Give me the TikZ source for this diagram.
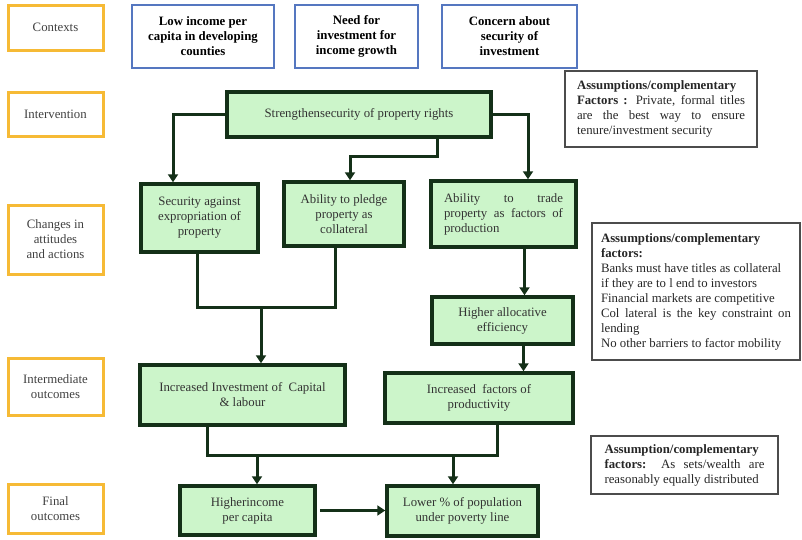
\documentclass[tikz,border=0pt]{standalone}
\usepackage{fontspec}
\setmainfont{Liberation Serif}
\usetikzlibrary{arrows.meta, positioning}
\definecolor{stageyellow}{HTML}{F6BA35}
\definecolor{ctxblue}{HTML}{5577C0}
\definecolor{stepgreen}{HTML}{CCF5CA}
\definecolor{stepedge}{HTML}{143018}

\begin{document}
\begin{tikzpicture}[x=1pt, y=-1pt,
  font=\fontsize{12.8}{15}\selectfont,
  stage/.style={draw=stageyellow, line width=3pt, align=center, text=black!75,
                minimum width=95},
  ctx/.style={draw=ctxblue, line width=2pt, align=center,
              font=\fontsize{12.8}{15}\selectfont\bfseries, minimum height=63},
  stepbox/.style={draw=stepedge, fill=stepgreen, line width=3.5pt, align=center,
                  text=black!80},
  note/.style={draw=black!70, line width=1.8pt, align=justify, text=black!85},
  arr/.style={-{Triangle[length=8pt,width=10pt]}, draw=stepedge, line width=3pt},
  link/.style={draw=stepedge, line width=3pt}]
\useasboundingbox (0,0) rectangle (802,539);

\node[stage, minimum height=45] (ctxlbl) at (55.5,27.5) {Contexts};
\node[stage, minimum height=44] (intlbl) at (55.5,114) {Intervention};
\node[stage, minimum height=69] (chglbl) at (55.5,239.5) {Changes in\\attitudes\\and actions};
\node[stage, minimum height=57] (midlbl) at (55.5,386.5) {Intermediate\\outcomes};
\node[stage, minimum height=49] (finlbl) at (55.5,508.5) {Final\\outcomes};

\node[ctx, minimum width=142] (poor) at (203,36.5) {Low income per\\capita in developing\\counties};
\node[ctx, minimum width=123] (need) at (356.5,36.5) {Need for\\investment for\\income growth};
\node[ctx, minimum width=135] (concern) at (509.5,36.5) {Concern about\\security of\\investment};

\node[stepbox, minimum width=264, minimum height=45] (str) at (359,114.5) {Strengthensecurity of property rights};
\node[stepbox, minimum width=117, minimum height=68] (sec) at (199.5,218) {Security against\\expropriation of\\property};
\node[stepbox, minimum width=120, minimum height=64] (pledge) at (344,214) {Ability to pledge\\property as\\collateral};
\node[stepbox, minimum width=145, minimum height=66, align=justify, text width=119] (trade) at (503.5,214)
  {Ability to trade \linebreak property as factors of \linebreak production};
\node[stepbox, minimum width=141, minimum height=47] (alloc) at (502.5,320.5) {Higher allocative\\efficiency};
\node[stepbox, minimum width=205, minimum height=60] (inv) at (242.5,395) {Increased Investment of~ Capital\\\& labour};
\node[stepbox, minimum width=188, minimum height=50] (fac) at (479,398) {Increased~ factors of\\productivity};
\node[stepbox, minimum width=135, minimum height=49] (hi) at (247.5,510.5) {Higherincome\\per capita};
\node[stepbox, minimum width=151, minimum height=50] (low) at (462.5,511) {Lower \% of population\\under poverty line};

\node[note, text width=168, inner xsep=12pt, minimum height=76] (note1) at (661,109)
  {\textbf{Assumptions/complementary} \linebreak \textbf{Factors :} Private, formal titles \linebreak
   are the best way to ensure \linebreak tenure/investment security};
\node[note, text width=190, inner xsep=9pt, minimum height=137] (note2) at (696,291.5)
  {\textbf{Assumptions/complementary}\\ \textbf{factors:}\\ Banks must have titles as collateral\\
   if they are to l end to investors\\ Financial markets are competitive\\
   Col lateral is the key constraint on \linebreak lending\\ No other barriers to factor mobility};
\node[note, text width=160, inner xsep=13.5pt, minimum height=58] (note3) at (684.5,465)
  {\textbf{Assumption/complementary} \linebreak \textbf{factors:} As sets/wealth are \linebreak
   reasonably equally distributed};

\draw[arr] (str.west) -| ([xshift=-26.5]sec.north);
\draw[arr] ([xshift=78]str.south) -- ++(0,18) -| ([xshift=6]pledge.north);
\draw[arr] (str.east) -| ([xshift=24.5]trade.north);
\coordinate (j1) at (261,307);
\draw[link] ([xshift=-2.5]sec.south) |- (j1) -| ([xshift=-9]pledge.south);
\draw[arr] (j1) -- (j1 |- inv.north);
\draw[arr] ([xshift=21]trade.south) -- ([xshift=22]alloc.north);
\draw[arr] ([xshift=21]alloc.south) -- ([xshift=44.5]fac.north);
\coordinate (jl) at (257,455);
\coordinate (jr) at (453,455);
\draw[link] ([xshift=-35.5]inv.south) |- (jl) -- (jr) -| ([xshift=18]fac.south);
\draw[arr] (jl) -- (jl |- hi.north);
\draw[arr] (jr) -- (jr |- low.north);
\draw[arr, shorten <=3pt] (hi.east) -- (hi.east -| low.west);
\end{tikzpicture}
\end{document}
